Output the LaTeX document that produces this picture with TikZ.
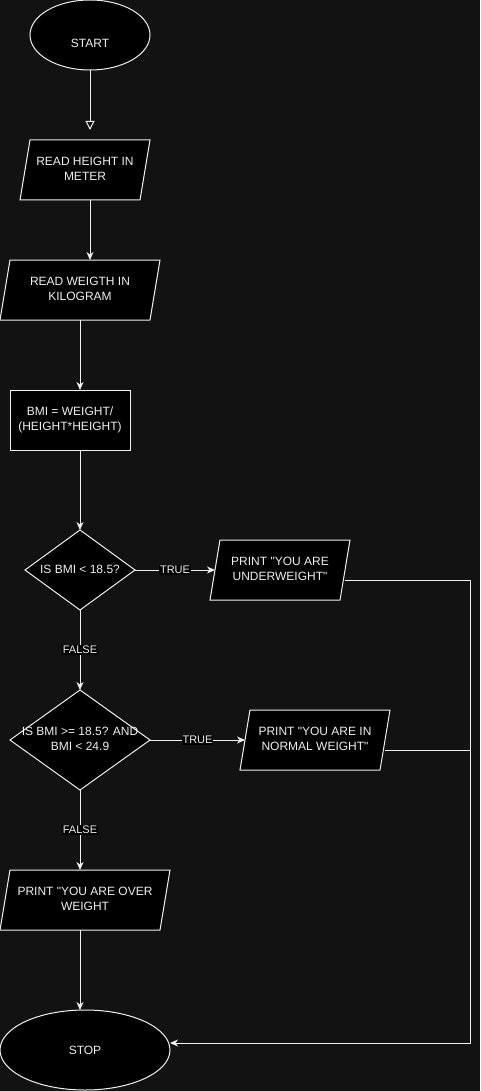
\documentclass[tikz,border=0pt]{standalone}
\usepackage{fontspec}
\setmainfont{Liberation Sans}[Ligatures=TeXOff]
\usetikzlibrary{shapes.geometric,arrows.meta,calc}
\definecolor{bg}{HTML}{121212}
\definecolor{ink}{HTML}{F0F0F0}
% centred multi-line text that takes no width, so a shape keeps its set size
\newcommand{\flowtext}[1]{\makebox[0pt][c]{\begin{tabular}{@{}c@{}}#1\end{tabular}}}
\begin{document}
\begin{tikzpicture}[x=1pt,y=-1pt,
  base/.style={draw=ink, fill=black, text=ink, line width=1pt,
    font=\fontsize{12}{15}\selectfont, align=center, inner sep=0pt, outer sep=0pt},
  terminal/.style 2 args={base, ellipse, minimum width=#1, minimum height=#2},
  process/.style 2 args={base, rectangle, minimum width=#1, minimum height=#2},
  decision/.style 2 args={base, diamond, minimum width=#1, minimum height=#2},
  inout/.style={base, trapezium, trapezium left angle=71.565, trapezium right angle=108.435,
    trapezium stretches body, minimum width=#1, minimum height=60},
  conn/.style={draw=ink, line width=1pt},
  arr/.style={conn, -{Stealth[length=8pt,width=7pt,inset=2.5pt]}},
  openarr/.style={conn, -{Triangle[open,length=9pt,width=9pt]}},
  lbl/.style={fill=black, text=ink, font=\fontsize{11}{13}\selectfont, inner sep=1pt}]

% canvas
\fill[bg] (0,0) rectangle (480,1091);
\useasboundingbox (0,0) rectangle (480,1091);

% nodes
\node[terminal={120pt}{70pt}] (start) at (90,35) {\raisebox{-12.5pt}[0pt][0pt]{START}};
\node[inout=130pt] (readh) at (85,170) {\flowtext{READ HEIGHT IN\\METER}};
\node[inout=160pt] (readw) at (80,290) {\flowtext{READ WEIGTH IN\\KILOGRAM}};
\node[process={120pt}{60pt}] (calc) at (70,420) {\flowtext{BMI = WEIGHT/\\(HEIGHT*HEIGHT)}};
\node[decision={110pt}{80pt}, aspect=1.375] (low) at (80,570) {\flowtext{IS BMI < 18.5?}};
\node[inout=140pt] (under) at (280,570) {\flowtext{PRINT "YOU ARE\\UNDERWEIGHT"}};
\node[decision={140pt}{100pt}, aspect=1.4] (mid) at (80,740) {\flowtext{IS BMI >= 18.5? AND\\BMI < 24.9}};
\node[inout=150pt] (normal) at (315,740) {\flowtext{PRINT "YOU ARE IN\\NORMAL WEIGHT"}};
\node[inout=170pt] (over) at (85,900) {\flowtext{PRINT "YOU ARE OVER\\WEIGHT}};
\node[terminal={170pt}{80pt}] (stop) at (85,1050) {STOP};

% free ends and bends
\coordinate (startend) at (90,130);
\coordinate (rail) at (470,1043);

% connectors
\draw[openarr] (start.south) -- (startend);
\draw[arr] (readh.south -| start.south) -- (readw.north -| start.south);
\draw[arr] (readw.south -| low.north) -- (calc.north -| low.north);
\draw[arr] (calc.south -| low.north) -- (low.north);
\draw[arr] (low.east) -- node[lbl]{TRUE} (under.west);
\draw[arr] (low.south) -- node[lbl]{FALSE} (mid.north);
\draw[arr] (mid.east) -- node[lbl]{TRUE} (normal.west);
\draw[arr] (mid.south) -- node[lbl]{FALSE} (over.north -| mid.south);
\draw[arr] (over.south -| mid.south) -- (stop.north -| mid.south);
\draw[arr] ($(under.east)+(0,10)$) -| (rail) -- (rail -| stop.east);
\draw[conn] ($(normal.east)+(0,10)$) -- (rail |- 0,750);
\end{tikzpicture}
\end{document}
